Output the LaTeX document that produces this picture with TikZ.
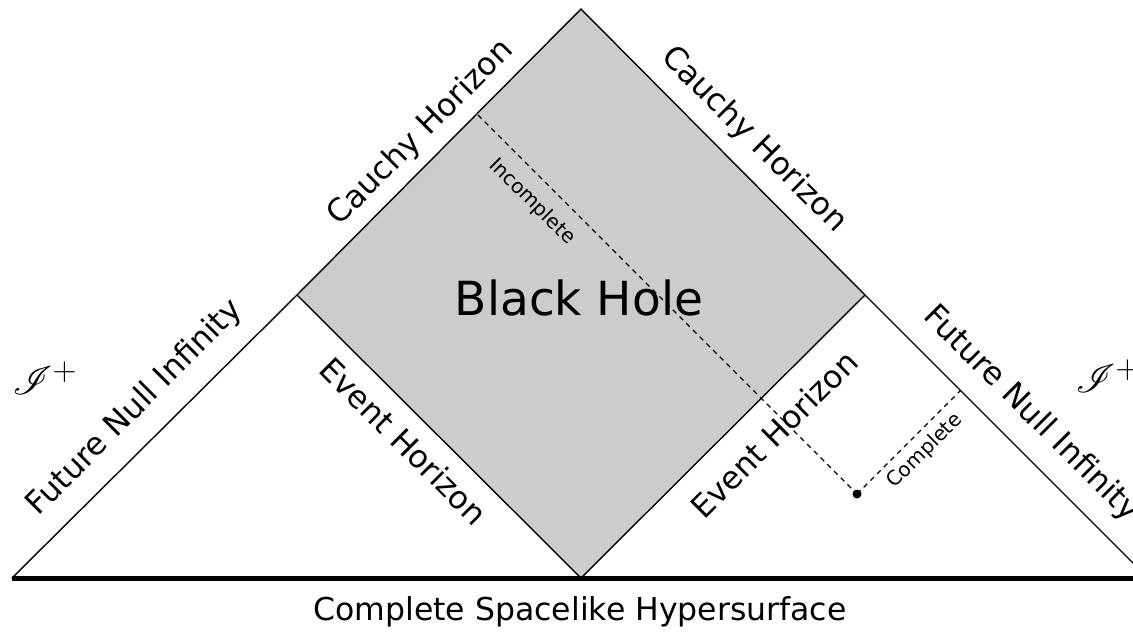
\documentclass[tikz,border=0pt]{standalone}
\usepackage{fontspec}
\setmainfont{DejaVu Sans}
\usepackage{mathrsfs}
\begin{document}
\begin{tikzpicture}[x=1pt,y=-1pt,
  edge/.style={line width=1.4pt, line cap=round, line join=miter},
  big/.style={font=\fontsize{31.5}{37}\selectfont, inner sep=0pt},
  small/.style={font=\fontsize{20}{24}\selectfont, inner sep=0pt},
  scri/.style={inner sep=0pt, font=\fontsize{24.88}{30}\selectfont},
  dline/.style={line width=1.3pt, dash pattern=on 5pt off 4.5pt}]
\useasboundingbox (0,0) rectangle (1133,633);
\clip (0,0) rectangle (1133,633);
\coordinate (T) at (581,9);
\coordinate (L) at (297,295);
\coordinate (B) at (581,578);
\coordinate (R) at (865,295);
\coordinate (LL) at (12,578);
\coordinate (RR) at (1148,578);
\coordinate (BR) at (1140,578);
\coordinate (S) at (478,115);
\coordinate (P) at (857,494);
\coordinate (Q) at (960.5,390.5);
\fill[fill={rgb,255:red,204;green,204;blue,204}] (T) -- (R) -- (B) -- (L) -- cycle;
\draw[edge] (T) -- (R) -- (B) -- (L) -- cycle;
\draw[edge] (LL) -- (L);
\draw[edge] (R) -- (RR);
\draw[line width=5pt] (LL) -- (BR);
\draw[dline] (S) -- (P);
\draw[dline] (P) -- (Q);
\fill (P) circle (4.5pt);
\node[big, rotate=45] (ch1) at (421,133) {Cauchy Horizon};
\node[big, rotate=-45] (ch2) at (754,140) {Cauchy Horizon};
\node[big, rotate=45] (fn1) at (135,408) {Future Null Infinity};
\node[big, rotate=-45] (eh1) at (404,441) {Event Horizon};
\node[big, rotate=45] (eh2) at (774,434) {Event Horizon};
\node[big, rotate=-45] (fn2) at (1031,414) {Future Null Infinity};
\node[font=\fontsize{47}{56}\selectfont, inner sep=0pt] (bh) at (579,298) {Black Hole};
\node[small, rotate=-45] (inc) at (532,202) {Incomplete};
\node[small, rotate=45] (comp) at (925,451) {Complete};
\node[big] (cs) at (580,612) {Complete Spacelike Hypersurface};
\node[scri] (s1) at (45,378) {\scalebox{1.6}{$\mathscr{I}^+$}};
\node[scri] (s2) at (1108,376) {\scalebox{1.6}{$\mathscr{I}^+$}};
\end{tikzpicture}
\end{document}
